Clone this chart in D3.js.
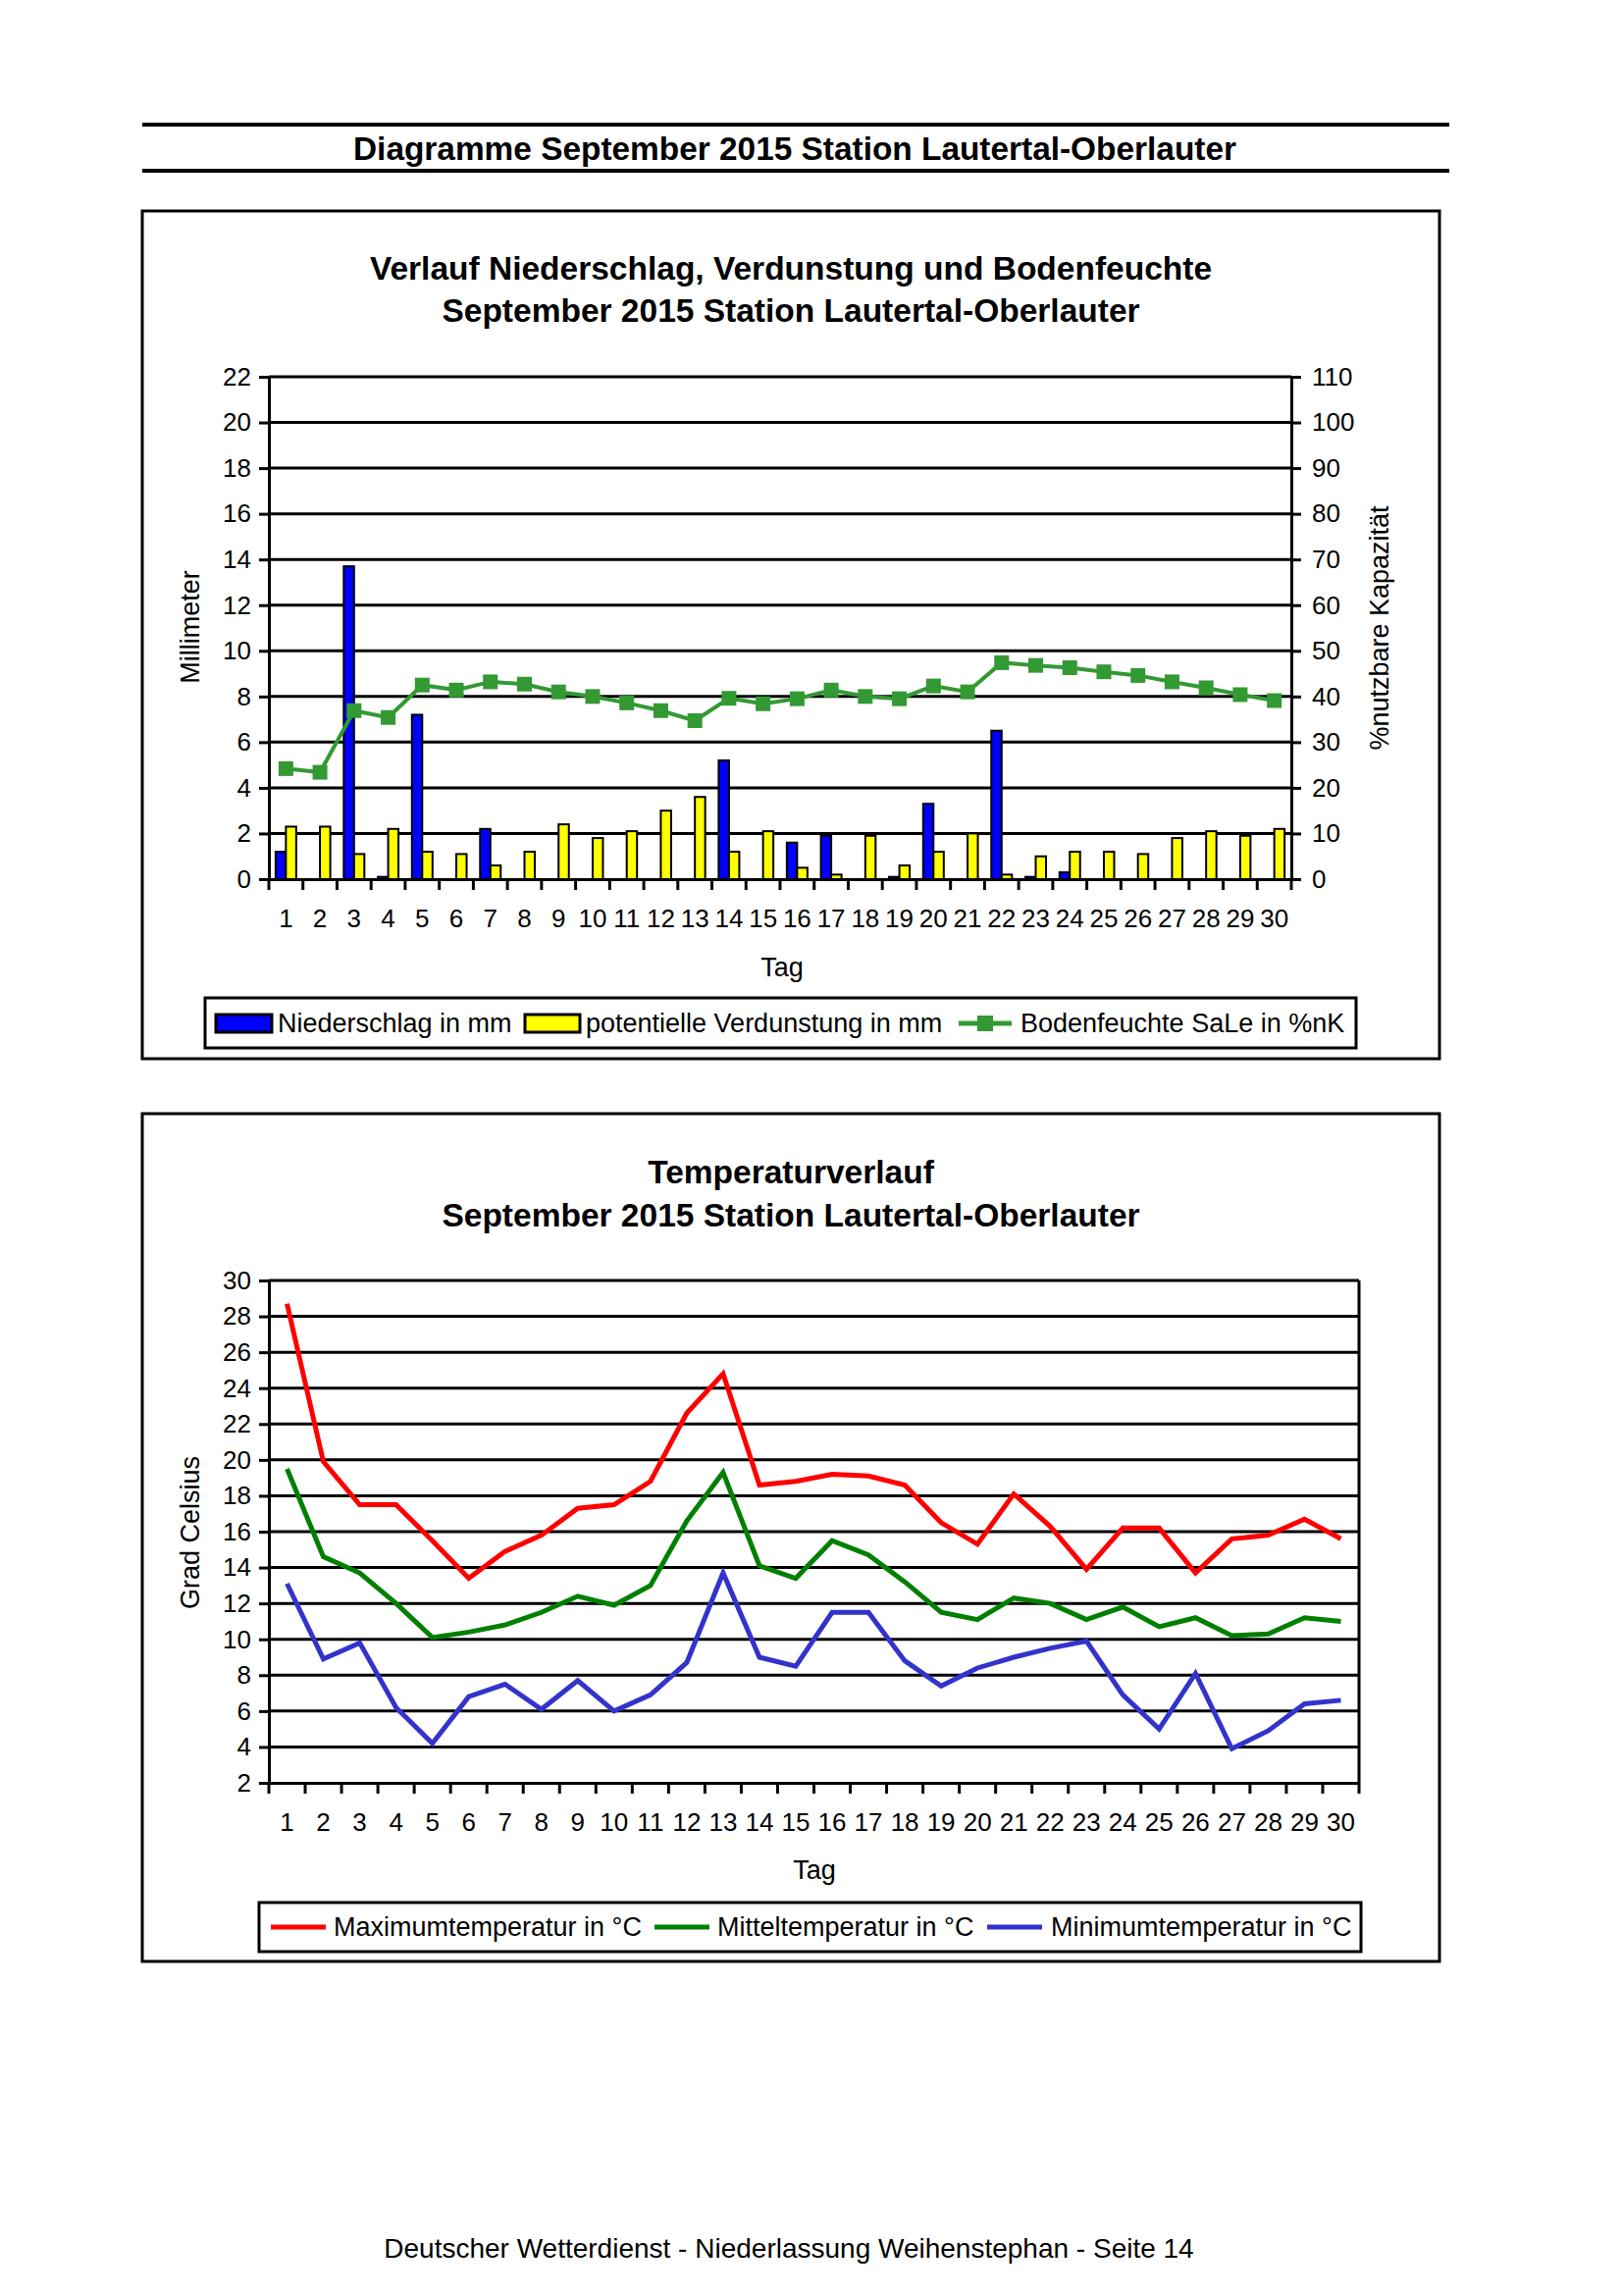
<!DOCTYPE html>
<html><head><meta charset="utf-8">
<script src="https://cdn.jsdelivr.net/npm/d3@7"></script>
<style>
html,body{margin:0;padding:0;background:#fff;}
svg text{font-family:"Liberation Sans",Arial,sans-serif;fill:#000;}
</style></head>
<body>
<svg id="page" width="1653" height="2340"></svg>
<script>
// ---------- data ----------
const days = [1,2,3,4,5,6,7,8,9,10,11,12,13,14,15,16,17,18,19,20,21,22,23,24,25,26,27,28,29,30];
const niederschlag = [1.2,0,13.7,0.1,7.2,0,2.2,0,0,0,0,0,0,5.2,0,1.6,1.9,0,0.1,3.3,0,6.5,0.1,0.3,0,0,0,0,0,0];
const verdunstung = [2.3,2.3,1.1,2.2,1.2,1.1,0.6,1.2,2.4,1.8,2.1,3.0,3.6,1.2,2.1,0.5,0.2,1.9,0.6,1.2,2.0,0.2,1.0,1.2,1.2,1.1,1.8,2.1,1.9,2.2];
const bodenfeuchte = [24.2,23.4,36.9,35.4,42.5,41.4,43.2,42.7,41.0,40.0,38.6,36.9,34.7,39.6,38.4,39.5,41.4,40.0,39.5,42.3,41.0,47.4,46.8,46.3,45.4,44.6,43.2,41.9,40.4,39.1];
const tMax = [28.7,19.9,17.5,17.5,15.5,13.4,14.9,15.8,17.3,17.5,18.8,22.6,24.8,18.6,18.8,19.2,19.1,18.6,16.5,15.3,18.1,16.3,13.9,16.2,16.2,13.7,15.6,15.8,16.7,15.6];
const tMittel = [19.5,14.6,13.7,12.0,10.1,10.4,10.8,11.5,12.4,11.9,13.0,16.6,19.3,14.1,13.4,15.5,14.7,13.2,11.5,11.1,12.3,12.0,11.1,11.8,10.7,11.2,10.2,10.3,11.2,11.0];
const tMin = [13.1,8.9,9.8,6.2,4.2,6.8,7.5,6.1,7.7,6.0,6.9,8.7,13.7,9.0,8.5,11.5,11.5,8.8,7.4,8.4,9.0,9.5,9.9,6.9,5.0,8.1,3.9,4.9,6.4,6.6];
const mmTicks = [0,2,4,6,8,10,12,14,16,18,20,22];
const pctTicks = [0,10,20,30,40,50,60,70,80,90,100,110];
const tempTicks = [2,4,6,8,10,12,14,16,18,20,22,24,26,28,30];

const svg = d3.select("#page");
const FS = 26;
const TFS = 33.5;

// ---------- page header ----------
svg.append("line").attr("x1",145).attr("x2",1477).attr("y1",127).attr("y2",127).attr("stroke","#000").attr("stroke-width",4);
svg.append("line").attr("x1",145).attr("x2",1477).attr("y1",174).attr("y2",174).attr("stroke","#000").attr("stroke-width",4);
svg.append("text").attr("x",810).attr("y",163).attr("text-anchor","middle").attr("font-size",33.4).attr("font-weight","bold")
  .text("Diagramme September 2015 Station Lautertal-Oberlauter");

// footer
svg.append("text").attr("x",804).attr("y",2301).attr("text-anchor","middle").attr("font-size",28)
  .text("Deutscher Wetterdienst - Niederlassung Weihenstephan - Seite 14");

// ---------- chart 1 ----------
const g1 = svg.append("g");
g1.append("rect").attr("x",145).attr("y",215).attr("width",1322).attr("height",864).attr("fill","none").attr("stroke","#000").attr("stroke-width",3);
g1.append("text").attr("x",806).attr("y",285).attr("text-anchor","middle").attr("font-size",TFS).attr("font-weight","bold")
  .text("Verlauf Niederschlag, Verdunstung und Bodenfeuchte");
g1.append("text").attr("x",806).attr("y",328).attr("text-anchor","middle").attr("font-size",TFS).attr("font-weight","bold")
  .text("September 2015 Station Lautertal-Oberlauter");

const x1 = d3.scaleBand().domain(days).range([274,1316]).padding(0);
const y1 = d3.scaleLinear().domain([0,22]).range([896,384]);
const y1r = d3.scaleLinear().domain([0,110]).range([896,384]);

// gridlines
g1.append("g").selectAll("line").data(mmTicks.filter(d=>d>0)).join("line")
  .attr("x1",274).attr("x2",1316).attr("y1",d=>y1(d)).attr("y2",d=>y1(d)).attr("stroke","#000").attr("stroke-width",3);

// left axis
const axL1 = g1.append("g").attr("transform","translate(274,0)")
  .call(d3.axisLeft(y1).tickValues(mmTicks).tickSize(10).tickPadding(8).tickSizeOuter(0));
// right axis
const axR1 = g1.append("g").attr("transform","translate(1316,0)")
  .call(d3.axisRight(y1r).tickValues(pctTicks).tickSize(10).tickPadding(11).tickSizeOuter(0));
// bottom axis
const axB1 = g1.append("g").attr("transform","translate(0,896)")
  .call(d3.axisBottom(x1).tickSize(0).tickPadding(31).tickSizeOuter(0));
// category boundary ticks
g1.append("g").selectAll("line").data(days.concat([31])).join("line")
  .attr("x1",(d,i)=> i<30 ? x1(d) : 1316).attr("x2",(d,i)=> i<30 ? x1(d) : 1316)
  .attr("y1",896).attr("y2",907).attr("stroke","#000").attr("stroke-width",3);

[axL1,axR1,axB1].forEach(a=>{
  a.selectAll(".domain").attr("stroke","#000").attr("stroke-width",3);
  a.selectAll(".tick line").attr("stroke","#000").attr("stroke-width",3);
  a.selectAll("text").attr("font-size",FS).attr("font-family","Liberation Sans, Arial, sans-serif");
});

// bars
const bw = 10.5;
g1.append("g").selectAll("rect").data(niederschlag).join("rect")
  .attr("x",(d,i)=>x1(days[i])+x1.bandwidth()/2-bw).attr("width",bw)
  .attr("y",d=>y1(d)).attr("height",d=>y1(0)-y1(d))
  .attr("fill","#0000ff").attr("stroke","#000").attr("stroke-width",2)
  .attr("display",d=>d>0?null:"none");
g1.append("g").selectAll("rect").data(verdunstung).join("rect")
  .attr("x",(d,i)=>x1(days[i])+x1.bandwidth()/2).attr("width",bw)
  .attr("y",d=>y1(d)).attr("height",d=>y1(0)-y1(d))
  .attr("fill","#ffff00").attr("stroke","#000").attr("stroke-width",2);

// soil moisture line
const green1 = "#339933";
const line1 = d3.line().x((d,i)=>x1(days[i])+x1.bandwidth()/2).y(d=>y1r(d));
g1.append("path").datum(bodenfeuchte).attr("d",line1).attr("fill","none").attr("stroke",green1).attr("stroke-width",4);
g1.append("g").selectAll("rect").data(bodenfeuchte).join("rect")
  .attr("x",(d,i)=>x1(days[i])+x1.bandwidth()/2-7.5).attr("y",d=>y1r(d)-7.5)
  .attr("width",15).attr("height",15).attr("fill",green1);

// axis titles
g1.append("text").attr("transform","translate(203,639) rotate(-90)").attr("text-anchor","middle").attr("font-size",27).text("Millimeter");
g1.append("text").attr("transform","translate(1415,640) rotate(-90)").attr("text-anchor","middle").attr("font-size",27).text("%nutzbare Kapazität");
g1.append("text").attr("x",797).attr("y",995).attr("text-anchor","middle").attr("font-size",27).text("Tag");

// legend 1
const lg1 = g1.append("g");
lg1.append("rect").attr("x",209).attr("y",1017).attr("width",1173).attr("height",51).attr("fill","#fff").attr("stroke","#000").attr("stroke-width",3);
lg1.append("rect").attr("x",220).attr("y",1034).attr("width",57).attr("height",18).attr("fill","#0000ff").attr("stroke","#000").attr("stroke-width",3);
lg1.append("text").attr("x",283).attr("y",1052).attr("font-size",27).text("Niederschlag in mm");
lg1.append("rect").attr("x",535).attr("y",1034).attr("width",56).attr("height",18).attr("fill","#ffff00").attr("stroke","#000").attr("stroke-width",3);
lg1.append("text").attr("x",597).attr("y",1052).attr("font-size",27).text("potentielle Verdunstung in mm");
lg1.append("line").attr("x1",977).attr("x2",1031).attr("y1",1043).attr("y2",1043).attr("stroke",green1).attr("stroke-width",5);
lg1.append("rect").attr("x",996).attr("y",1035).attr("width",16).attr("height",16).attr("fill",green1);
lg1.append("text").attr("x",1040).attr("y",1052).attr("font-size",27).text("Bodenfeuchte SaLe in %nK");

// ---------- chart 2 ----------
const g2 = svg.append("g");
g2.append("rect").attr("x",145).attr("y",1135).attr("width",1322).attr("height",864).attr("fill","none").attr("stroke","#000").attr("stroke-width",3);
g2.append("text").attr("x",806).attr("y",1206).attr("text-anchor","middle").attr("font-size",TFS).attr("font-weight","bold").text("Temperaturverlauf");
g2.append("text").attr("x",806).attr("y",1250).attr("text-anchor","middle").attr("font-size",TFS).attr("font-weight","bold")
  .text("September 2015 Station Lautertal-Oberlauter");

const x2 = d3.scaleBand().domain(days).range([274,1385]).padding(0);
const y2 = d3.scaleLinear().domain([2,30]).range([1817,1305]);

g2.append("g").selectAll("line").data(tempTicks.filter(d=>d>2)).join("line")
  .attr("x1",274).attr("x2",1385).attr("y1",d=>y2(d)).attr("y2",d=>y2(d)).attr("stroke","#000").attr("stroke-width",3);
g2.append("line").attr("x1",1385).attr("x2",1385).attr("y1",1305).attr("y2",1817).attr("stroke","#000").attr("stroke-width",3);

const axL2 = g2.append("g").attr("transform","translate(274,0)")
  .call(d3.axisLeft(y2).tickValues(tempTicks).tickSize(10).tickPadding(8).tickSizeOuter(0));
const axB2 = g2.append("g").attr("transform","translate(0,1817)")
  .call(d3.axisBottom(x2).tickSize(0).tickPadding(31).tickSizeOuter(0));
g2.append("g").selectAll("line").data(days.concat([31])).join("line")
  .attr("x1",(d,i)=> i<30 ? x2(d) : 1385).attr("x2",(d,i)=> i<30 ? x2(d) : 1385)
  .attr("y1",1817).attr("y2",1828).attr("stroke","#000").attr("stroke-width",3);
[axL2,axB2].forEach(a=>{
  a.selectAll(".domain").attr("stroke","#000").attr("stroke-width",3);
  a.selectAll(".tick line").attr("stroke","#000").attr("stroke-width",3);
  a.selectAll("text").attr("font-size",FS).attr("font-family","Liberation Sans, Arial, sans-serif");
});

const line2 = d3.line().x((d,i)=>x2(days[i])+x2.bandwidth()/2).y(d=>y2(d));
const series = [
  {name:"Maximumtemperatur in °C", values:tMax, color:"#ff0000"},
  {name:"Mitteltemperatur in °C", values:tMittel, color:"#008000"},
  {name:"Minimumtemperatur in °C", values:tMin, color:"#3333cc"}
];
g2.append("g").selectAll("path").data(series).join("path")
  .attr("d",d=>line2(d.values)).attr("fill","none").attr("stroke",d=>d.color).attr("stroke-width",5).attr("stroke-linejoin","miter");

g2.append("text").attr("transform","translate(203,1562) rotate(-90)").attr("text-anchor","middle").attr("font-size",27).text("Grad Celsius");
g2.append("text").attr("x",830).attr("y",1915).attr("text-anchor","middle").attr("font-size",27).text("Tag");

const lg2 = g2.append("g");
lg2.append("rect").attr("x",264).attr("y",1939).attr("width",1123).attr("height",50).attr("fill","#fff").attr("stroke","#000").attr("stroke-width",3);
const lx = [[276,340],[667,731],[1006,1071]];
series.forEach((s,i)=>{
  lg2.append("line").attr("x1",lx[i][0]).attr("x2",lx[i][0]+56).attr("y1",1964).attr("y2",1964).attr("stroke",s.color).attr("stroke-width",5);
  lg2.append("text").attr("x",lx[i][1]).attr("y",1973).attr("font-size",27).text(s.name);
});
</script>
</body></html>
